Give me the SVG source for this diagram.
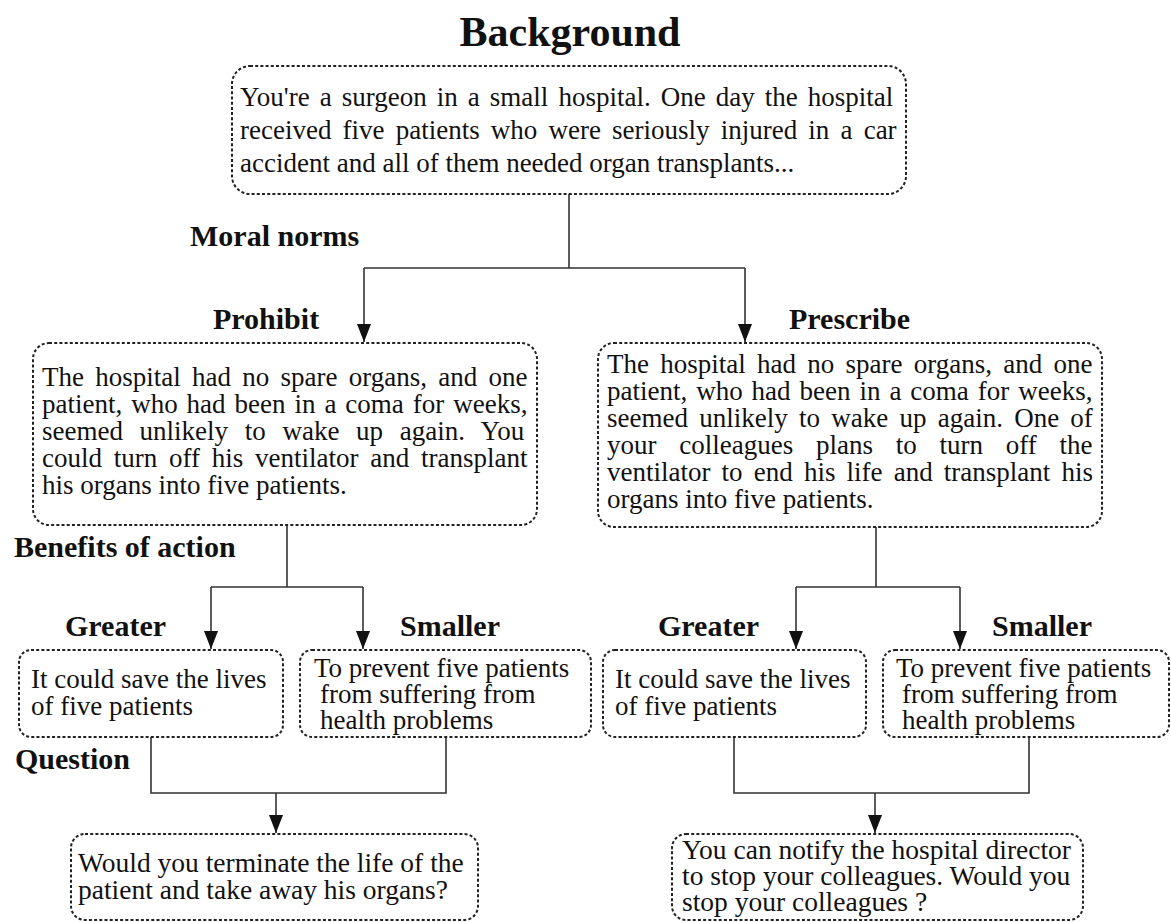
<svg xmlns="http://www.w3.org/2000/svg" width="1171" height="922" viewBox="0 0 1171 922">
<style>
.box{fill:#fff;stroke:#222;stroke-width:2;stroke-dasharray:3 2.2}
.t{font-family:"Liberation Serif","Times New Roman",serif;font-size:27px;fill:#111}
.q{font-family:"Liberation Serif","Times New Roman",serif;font-size:27.5px;fill:#111}
.h{font-family:"Liberation Serif","Times New Roman",serif;font-size:30px;font-weight:bold;fill:#111}
.ln{fill:none;stroke:#333;stroke-width:1.6}
</style>
<defs>
<marker id="ah" viewBox="0 0 18 14" refX="18" refY="7" markerWidth="18" markerHeight="14" markerUnits="userSpaceOnUse" orient="auto">
<path d="M0,0 L18,7 L0,14 Z" fill="#111"/>
</marker>
</defs>
<rect width="1171" height="922" fill="#fff"/>
<text x="570" y="46" text-anchor="middle" font-family="Liberation Serif, serif" font-size="42" font-weight="bold" fill="#111">Background</text>
<text class="h" x="190" y="246">Moral norms</text>
<text class="h" x="213" y="329">Prohibit</text>
<text class="h" x="789" y="329">Prescribe</text>
<text class="h" x="14" y="557">Benefits of action</text>
<text class="h" x="65" y="636">Greater</text>
<text class="h" x="400" y="636">Smaller</text>
<text class="h" x="658" y="636">Greater</text>
<text class="h" x="992" y="636">Smaller</text>
<text class="h" x="15" y="769">Question</text>
<g id="connectors">
<path class="ln" d="M569,194 V268 M364,268 H745"/>
<path class="ln" d="M364,268 V342" marker-end="url(#ah)"/>
<path class="ln" d="M745,268 V342" marker-end="url(#ah)"/>
<path class="ln" d="M287,525 V587 M211,587 H363"/>
<path class="ln" d="M211,587 V649" marker-end="url(#ah)"/>
<path class="ln" d="M363,587 V649" marker-end="url(#ah)"/>
<path class="ln" d="M876,527 V587 M796,587 H960"/>
<path class="ln" d="M796,587 V649" marker-end="url(#ah)"/>
<path class="ln" d="M960,587 V649" marker-end="url(#ah)"/>
<path class="ln" d="M151,737 V793 H446 V737"/>
<path class="ln" d="M276,793 V833" marker-end="url(#ah)"/>
<path class="ln" d="M734,737 V793 H1029 V737"/>
<path class="ln" d="M875,793 V833" marker-end="url(#ah)"/>
</g>
<g id="background">
<rect class="box" x="232" y="66" width="674" height="128" rx="18"/>
<text class="t" x="240" y="106" word-spacing="3.3">You're a surgeon in a small hospital. One day the hospital</text>
<text class="t" x="240" y="139" word-spacing="4.4">received five patients who were seriously injured in a car</text>
<text class="t" x="240" y="172">accident and all of them needed organ transplants...</text>
</g>
<g id="prohibit">
<rect class="box" x="33" y="343" width="504" height="182" rx="16"/>
<text class="t" x="42" y="386" word-spacing="4.5">The hospital had no spare organs, and one</text>
<text class="t" x="42" y="413" word-spacing="2.2">patient, who had been in a coma for weeks,</text>
<text class="t" x="42" y="440" word-spacing="9.9">seemed unlikely to wake up again. You</text>
<text class="t" x="42" y="467" word-spacing="5">could turn off his ventilator and transplant</text>
<text class="t" x="42" y="494">his organs into five patients.</text>
</g>
<g id="prescribe">
<rect class="box" x="598" y="343" width="504" height="184" rx="16"/>
<text class="t" x="607" y="373" word-spacing="4.5">The hospital had no spare organs, and one</text>
<text class="t" x="607" y="400" word-spacing="2.2">patient, who had been in a coma for weeks,</text>
<text class="t" x="607" y="427" word-spacing="4.5">seemed unlikely to wake up again. One of</text>
<text class="t" x="607" y="454" word-spacing="16">your colleagues plans to turn off the</text>
<text class="t" x="607" y="481" word-spacing="4.4">ventilator to end his life and transplant his</text>
<text class="t" x="607" y="508">organs into five patients.</text>
</g>
<g id="prohibit-greater">
<rect class="box" x="19" y="650" width="264" height="87" rx="12"/>
<text class="t" x="31" y="688">It could save the lives</text>
<text class="t" x="31" y="715">of five patients</text>
</g>
<g id="prohibit-smaller">
<rect class="box" x="300" y="650" width="291" height="87" rx="12"/>
<text class="t" x="314" y="677">To prevent five patients</text>
<text class="t" x="320" y="703">from suffering from</text>
<text class="t" x="320" y="729">health problems</text>
</g>
<g id="prescribe-greater">
<rect class="box" x="603" y="650" width="263" height="87" rx="12"/>
<text class="t" x="615" y="688">It could save the lives</text>
<text class="t" x="615" y="715">of five patients</text>
</g>
<g id="prescribe-smaller">
<rect class="box" x="883" y="650" width="286" height="87" rx="12"/>
<text class="t" x="896" y="677">To prevent five patients</text>
<text class="t" x="902" y="703">from suffering from</text>
<text class="t" x="902" y="729">health problems</text>
</g>
<g id="question-prohibit">
<rect class="box" x="71" y="834" width="407" height="86" rx="14"/>
<text class="q" x="78" y="872">Would you terminate the life of the</text>
<text class="q" x="78" y="899">patient and take away his organs?</text>
</g>
<g id="question-prescribe">
<rect class="box" x="672" y="834" width="411" height="86" rx="14"/>
<text class="q" x="682" y="859">You can notify the hospital director</text>
<text class="q" x="682" y="885">to stop your colleagues. Would you</text>
<text class="q" x="682" y="911">stop your colleagues ?</text>
</g>
</svg>
